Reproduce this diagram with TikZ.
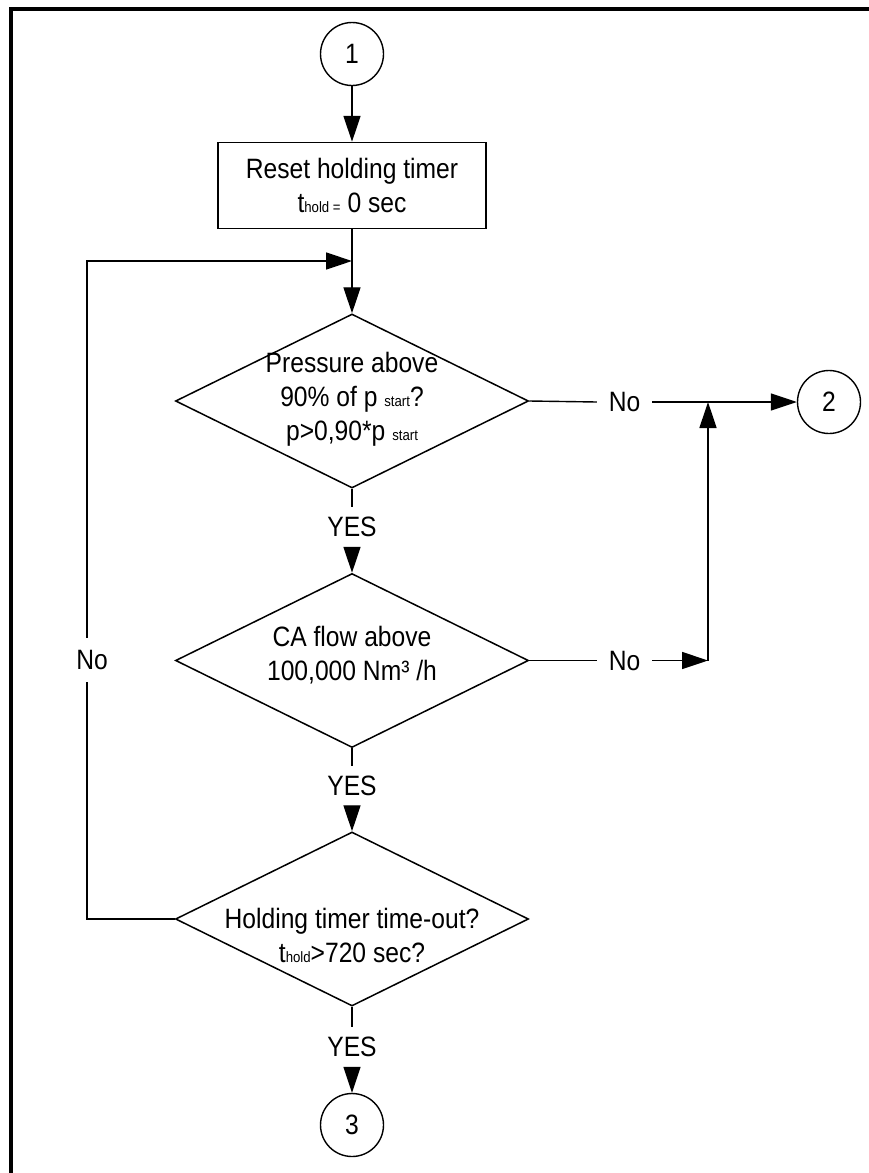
\documentclass[tikz,border=0pt]{standalone}
\usepackage{fontspec}
\setmainfont{Liberation Sans}[FakeStretch=0.88]
\usetikzlibrary{shapes.geometric,arrows.meta}
\newcommand{\smallsub}[1]{{\fontsize{15}{15}\selectfont #1}}
\tikzset{
  base/.style={font=\fontsize{28}{34}\selectfont, text=black},
  conn/.style={draw=black, line width=1.4pt},
  arr/.style={conn, -{Triangle[length=26pt,width=17pt]}},
  connector/.style={base, circle, draw, line width=1.4pt, minimum size=63pt, inner sep=0pt},
  procbox/.style={base, rectangle, draw, line width=1.5pt, minimum width=268pt, minimum height=86pt, align=center},
  decision/.style={diamond, draw, line width=1.5pt, minimum width=353pt, minimum height=174pt, inner sep=0pt},
  dtext/.style={base, align=center, inner sep=0pt},
  nolabel/.style={base, minimum width=55pt, minimum height=44pt, inner sep=0pt},
  yeslabel/.style={base, minimum width=50pt, minimum height=40pt, inner sep=0pt},
}
\begin{document}
\begin{tikzpicture}[x=1pt,y=-1pt]
\useasboundingbox (0,0) rectangle (869,1173);
% outer frame (extends past the right and bottom edges)
\draw[line width=4.5pt] (11,1200) -- (11,9) -- (900,9);

\node[connector] (c1) at (352,54) {1};
\node[procbox] (box) at (352,185.5) {Reset holding timer\\t\smallsub{hold =} 0 sec};
\node[decision] (d1) at (352,401) {};
\node[dtext] (t1) at (352,399) {Pressure above\\90\% of p \smallsub{start}?\\p>0,90*p \smallsub{start}};
\node[decision] (d2) at (352,660.5) {};
\node[dtext] (t2) at (352,655) {CA flow above\\100,000 Nm³ /h};
\node[decision] (d3) at (352,919) {};
\node[dtext] (t3) at (352,935) {Holding timer time-out?\\t\smallsub{hold}>720 sec?};
\node[connector] (c2) at (829,402) {2};
\node[connector] (c3) at (352,1125) {3};

\node[nolabel] (n1) at (624.5,402) {No};
\node[nolabel] (n2) at (624.5,660.5) {No};
\node[base, minimum width=40pt, minimum height=44pt, inner sep=0pt] (n3) at (92,660) {No};
\node[yeslabel] (y1) at (352,527) {YES};
\node[yeslabel] (y2) at (352,786) {YES};
\node[yeslabel] (y3) at (352,1047) {YES};

\coordinate (j1) at (708,402);
\coordinate (j2) at (708,660.5);
\coordinate (m) at (352,261);
\coordinate (L1) at (87,919);
\coordinate (L2) at (87,261);

% main flow
\draw[arr] (c1.south) -- (box.north);
\draw[arr] (box.south) -- (d1.north);
\draw[conn] (d1.south) -- (y1.north);
\draw[arr] (y1.south) -- (d2.north);
\draw[conn] (d2.south) -- (y2.north);
\draw[arr] (y2.south) -- (d3.north);
\draw[conn] (d3.south) -- (y3.north);
\draw[arr] (y3.south) -- (c3.north);

% No branches to 2
\draw[conn] (d1.east) -- (n1.west);
\draw[arr] (n1.east) -- (c2.west);
\draw[conn] (d2.east) -- (n2.west);
\draw[arr] (n2.east) -- (j2);
\draw[arr] (j2) -- (j1);

% No loop back
\draw[conn] (d3.west) -- (L1) -- (L1 |- n3.south);
\draw[arr] (L1 |- n3.north) -- (L2) -- (m);
\end{tikzpicture}
\end{document}
